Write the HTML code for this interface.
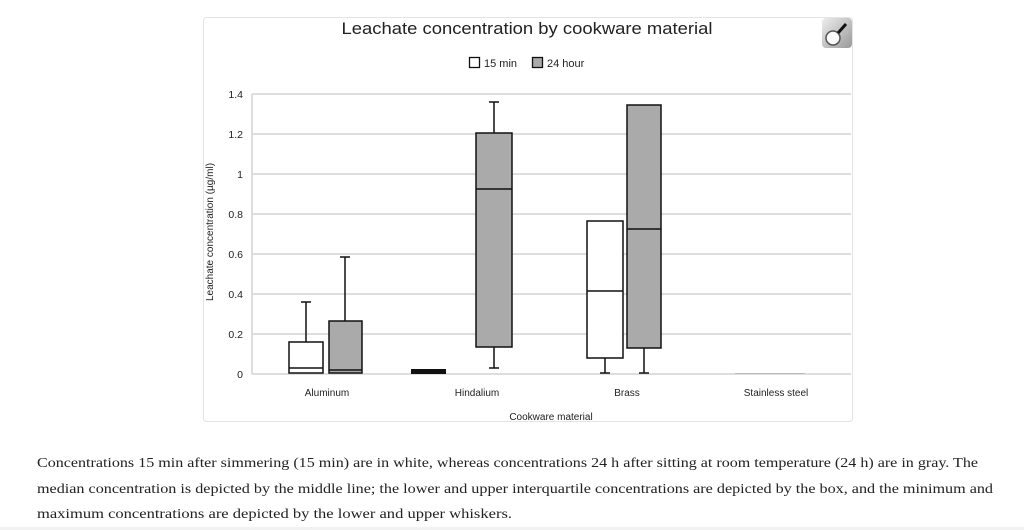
<!DOCTYPE html>
<html><head><meta charset="utf-8"><style>
html,body{margin:0;padding:0;background:#fff;width:1024px;height:530px;overflow:hidden}
</style></head><body>
<svg width="1024" height="530" viewBox="0 0 1024 530" xmlns="http://www.w3.org/2000/svg" font-family="Liberation Sans, sans-serif">
<defs><linearGradient id="mg" x1="0" y1="0" x2="1" y2="1"><stop offset="0" stop-color="#eee"/><stop offset="1" stop-color="#999"/></linearGradient></defs>
<rect x="203.5" y="17.5" width="649" height="404" rx="3" fill="#fff" stroke="#e4e4e4"/>
<text x="527" y="34" font-size="17" text-anchor="middle" fill="#222" textLength="371" lengthAdjust="spacingAndGlyphs">Leachate concentration by cookware material</text>
<rect x="822" y="18" width="30" height="30" rx="4" fill="url(#mg)"/>
<circle cx="833" cy="38" r="7" fill="#fafafa" stroke="#555" stroke-width="1.5"/>
<line x1="838" y1="33" x2="846" y2="24" stroke="#111" stroke-width="3"/>
<rect x="469.5" y="57.5" width="10" height="10" fill="#fff" stroke="#111" stroke-width="1.3"/>
<text x="484" y="67" font-size="11" fill="#222">15 min</text>
<rect x="532.5" y="57.5" width="10" height="10" fill="#aaa" stroke="#111" stroke-width="1.3"/>
<text x="547" y="67" font-size="11" fill="#222">24 hour</text>
<g stroke="#d4d4d4" stroke-width="1.5">
<line x1="252" y1="94" x2="851" y2="94"/><line x1="252" y1="134" x2="851" y2="134"/><line x1="252" y1="174" x2="851" y2="174"/><line x1="252" y1="214" x2="851" y2="214"/><line x1="252" y1="254" x2="851" y2="254"/><line x1="252" y1="294" x2="851" y2="294"/><line x1="252" y1="334" x2="851" y2="334"/><line x1="252" y1="374" x2="851" y2="374"/>
<line x1="252" y1="94" x2="252" y2="374"/>
</g>
<g font-size="10.5" fill="#222" text-anchor="end">
<text x="243" y="98">1.4</text><text x="243" y="138">1.2</text><text x="243" y="178">1</text><text x="243" y="218">0.8</text><text x="243" y="258">0.6</text><text x="243" y="298">0.4</text><text x="243" y="338">0.2</text><text x="243" y="378">0</text>
</g>
<text transform="translate(213,232) rotate(-90)" font-size="10" text-anchor="middle" fill="#222">Leachate concentration (µg/ml)</text>
<g stroke="#111" stroke-width="1.5" fill="none">
<line x1="306" y1="302" x2="306" y2="342"/><line x1="301" y1="302" x2="311" y2="302"/>
<rect x="289" y="342" width="34" height="31" fill="#fff"/><line x1="289" y1="368" x2="323" y2="368"/>
<line x1="345" y1="257" x2="345" y2="321"/><line x1="340" y1="257" x2="350" y2="257"/>
<rect x="329" y="321" width="33" height="52" fill="#aaa"/><line x1="329" y1="370" x2="362" y2="370"/>
<rect x="412" y="370" width="33" height="3" fill="#111" stroke-width="2"/>
<line x1="494" y1="102" x2="494" y2="133"/><line x1="489" y1="102" x2="499" y2="102"/>
<line x1="494" y1="347" x2="494" y2="368"/><line x1="489" y1="368" x2="499" y2="368"/>
<rect x="476" y="133" width="36" height="214" fill="#aaa"/><line x1="476" y1="189" x2="512" y2="189"/>
<line x1="605" y1="358" x2="605" y2="373"/><line x1="600" y1="373" x2="610" y2="373"/>
<rect x="587" y="221" width="36" height="137" fill="#fff"/><line x1="587" y1="291" x2="623" y2="291"/>
<line x1="644" y1="348" x2="644" y2="373"/><line x1="639" y1="373" x2="649" y2="373"/>
<rect x="627" y="105" width="34" height="243" fill="#aaa"/><line x1="627" y1="229" x2="661" y2="229"/>
</g>
<line x1="735" y1="373.5" x2="805" y2="373.5" stroke="#bbb" stroke-width="1"/>
<g font-size="10" fill="#222" text-anchor="middle">
<text x="327" y="396">Aluminum</text><text x="477" y="396">Hindalium</text><text x="627" y="396">Brass</text><text x="776" y="396">Stainless steel</text>
<text x="551" y="420">Cookware material</text>
</g>
<g font-family="Liberation Serif, serif" font-size="14" fill="#222">
<text x="37" y="467" textLength="941" lengthAdjust="spacingAndGlyphs">Concentrations 15 min after simmering (15 min) are in white, whereas concentrations 24 h after sitting at room temperature (24 h) are in gray. The</text>
<text x="37" y="493" textLength="956" lengthAdjust="spacingAndGlyphs">median concentration is depicted by the middle line; the lower and upper interquartile concentrations are depicted by the box, and the minimum and</text>
<text x="37" y="518" textLength="475" lengthAdjust="spacingAndGlyphs">maximum concentrations are depicted by the lower and upper whiskers.</text>
</g>
<rect x="0" y="527" width="1024" height="3" fill="#f2f2f2"/>
</svg>
</body></html>
